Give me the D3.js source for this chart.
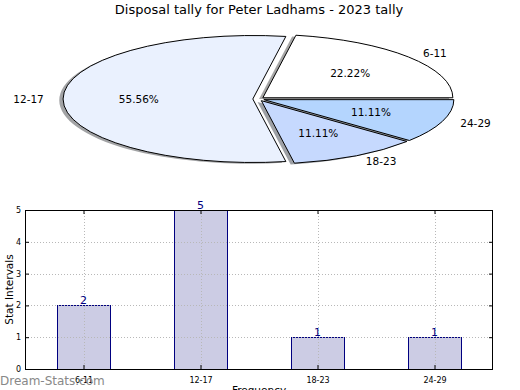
<!DOCTYPE html>
<meta charset="utf-8">
<head>
  <title>Disposal tally</title>
  <style>
    body { margin: 0; background: #fff; }
    text { font-family: "DejaVu Sans", sans-serif; }
  </style>
</head>
<body>
<svg width="520" height="390"></svg>
<script src="https://cdnjs.cloudflare.com/ajax/libs/d3/7.8.5/d3.min.js"></script>
<script>
var categories = ['6-11', '12-17', '18-23', '24-29'];
var counts = [2, 5, 1, 1];
var sliceColors = ['#ffffff', '#eaf1fe', '#c6d9fe', '#b4d5fe'];
var yTicks = [0, 1, 2, 3, 4, 5];

var svg = d3.select('svg');

svg.append('text')
  .attr('x', 259).attr('y', 14)
  .attr('text-anchor', 'middle')
  .style('font-size', '13px')
  .text('Disposal tally for Peter Ladhams - 2023 tally');

// ---- pie (elliptical, exploded, with shadow) ----
var cx = 258.5, cy = 99, rx = 190, ry = 63.5;
var explode = 0.03;
var total = d3.sum(counts);

// matplotlib style: start at 3 o'clock, go counterclockwise
var pie = d3.pie().sort(null)
  .startAngle(Math.PI / 2)
  .endAngle(Math.PI / 2 - 2 * Math.PI);
var arcs = pie(counts);
var arc = d3.arc().innerRadius(0).outerRadius(1);

function mid(d) { return (d.startAngle + d.endAngle) / 2; }
function offX(d) { return explode * rx * Math.sin(mid(d)); }
function offY(d) { return -explode * ry * Math.cos(mid(d)); }

var pieG = svg.append('g');

// shadows first
pieG.selectAll('path.shadow')
  .data(arcs)
  .enter().append('path')
  .attr('class', 'shadow')
  .attr('transform', function(d) {
    return 'translate(' + (cx + offX(d) - 0.02 * rx) + ',' + (cy + offY(d) + 0.02 * ry) + ') scale(' + rx + ',' + ry + ')';
  })
  .attr('d', arc)
  .style('fill', function(d, i) {
    var c = d3.rgb(sliceColors[i]);
    return d3.rgb(c.r * 0.3, c.g * 0.3, c.b * 0.3);
  })
  .style('opacity', 0.5);

pieG.selectAll('path.slice')
  .data(arcs)
  .enter().append('path')
  .attr('class', 'slice')
  .attr('transform', function(d) {
    return 'translate(' + (cx + offX(d)) + ',' + (cy + offY(d)) + ') scale(' + rx + ',' + ry + ')';
  })
  .attr('d', arc)
  .style('fill', function(d, i) { return sliceColors[i]; })
  .style('stroke', '#000')
  .style('stroke-width', 1)
  .attr('vector-effect', 'non-scaling-stroke');

// labels and percentages
arcs.forEach(function(d, i) {
  var a = mid(d);
  var sx = Math.sin(a), sy = -Math.cos(a);
  var bx = cx + offX(d), by = cy + offY(d);
  svg.append('text')
    .attr('x', bx + 1.1 * rx * sx)
    .attr('y', by + 1.1 * ry * sy)
    .attr('dy', '0.35em')
    .attr('text-anchor', sx > 0 ? 'start' : 'end')
    .style('font-size', '10.5px')
    .text(categories[i]);
  svg.append('text')
    .attr('x', bx + 0.6 * rx * sx)
    .attr('y', by + 0.6 * ry * sy)
    .attr('dy', '0.35em')
    .attr('text-anchor', 'middle')
    .style('font-size', '10.5px')
    .text((100 * d.data / total).toFixed(2) + '%');
});

// ---- bar chart ----
var plotL = 25, plotR = 493, plotT = 210, plotB = 369;
var x = d3.scaleLinear().domain([-0.5, categories.length - 0.5]).range([plotL, plotR]);
var y = d3.scaleLinear().domain([0, 5]).range([plotB, plotT]);
var barW = 0.45;

var bars = svg.append('g');
bars.selectAll('rect')
  .data(counts)
  .enter().append('rect')
  .attr('x', function(d, i) { return Math.round(x(i - barW / 2)) + 0.5; })
  .attr('width', Math.round(x(barW) - x(0)))
  .attr('y', function(d) { return Math.round(y(d)) + 0.5; })
  .attr('height', function(d) { return Math.round(y(0)) - Math.round(y(d)); })
  .style('fill', '#ccccE4')
  .style('stroke', '#000080')
  .style('stroke-width', 1);

// grid (on top of bars)
var grid = svg.append('g')
  .style('stroke', '#b8b8b8')
  .style('stroke-dasharray', '1,2')
  .style('stroke-width', 1);
grid.selectAll('line.h')
  .data(yTicks.slice(1, -1))
  .enter().append('line')
  .attr('x1', plotL).attr('x2', plotR)
  .attr('y1', function(d) { return Math.round(y(d)) + 0.5; })
  .attr('y2', function(d) { return Math.round(y(d)) + 0.5; });
grid.selectAll('line.v')
  .data(categories)
  .enter().append('line')
  .attr('x1', function(d, i) { return Math.round(x(i)) + 0.5; })
  .attr('x2', function(d, i) { return Math.round(x(i)) + 0.5; })
  .attr('y1', plotT).attr('y2', plotB);

// axes with inward ticks on all sides
var yAxisL = d3.axisLeft(y).tickValues(yTicks).tickFormat(d3.format('d'))
  .tickSizeInner(-4).tickSizeOuter(0).tickPadding(4);
var yAxisR = d3.axisRight(y).tickValues(yTicks).tickSizeInner(-4).tickSizeOuter(0).tickFormat('');
var xAxisB = d3.axisBottom(x).tickValues(d3.range(categories.length))
  .tickFormat(function(i) { return categories[i]; }).tickSizeInner(-4).tickSizeOuter(0).tickPadding(8);
var xAxisT = d3.axisTop(x).tickValues(d3.range(categories.length)).tickSizeInner(-4).tickSizeOuter(0).tickFormat('');

function style(g) {
  g.select('.domain').remove();
  g.selectAll('text').style('font-size', '8px').style('font-family', '"DejaVu Sans", sans-serif').attr('fill', '#000');
}
svg.append('g').attr('transform', 'translate(' + plotL + ',0)').call(yAxisL).call(style);
svg.append('g').attr('transform', 'translate(' + plotR + ',0)').call(yAxisR).call(style);
svg.append('g').attr('transform', 'translate(0,' + plotB + ')').call(xAxisB).call(style);
svg.append('g').attr('transform', 'translate(0,' + plotT + ')').call(xAxisT).call(style);

svg.append('rect')
  .attr('x', plotL + 0.5).attr('y', plotT + 0.5)
  .attr('width', plotR - plotL - 1).attr('height', plotB - plotT)
  .style('fill', 'none').style('stroke', '#000').style('stroke-width', 1);

// value labels
svg.selectAll('text.val')
  .data(counts)
  .enter().append('text')
  .attr('class', 'val')
  .attr('x', function(d, i) { return x(i); })
  .attr('y', function(d) { return y(d) - 1; })
  .attr('text-anchor', 'middle')
  .style('font-size', '11px')
  .style('fill', '#000080')
  .text(function(d) { return d; });

svg.append('text')
  .attr('transform', 'translate(13,' + ((plotT + plotB) / 2) + ') rotate(-90)')
  .attr('text-anchor', 'middle')
  .style('font-size', '10.5px')
  .text('Stat Intervals');

svg.append('text')
  .attr('x', (plotL + plotR) / 2).attr('y', 394)
  .attr('text-anchor', 'middle')
  .style('font-size', '10.5px')
  .text('Frequency');

svg.append('text')
  .attr('x', 0).attr('y', 385)
  .style('font-size', '12px')
  .style('fill', '#888')
  .text('Dream-Stats.com');
</script>
</body>
</html>
